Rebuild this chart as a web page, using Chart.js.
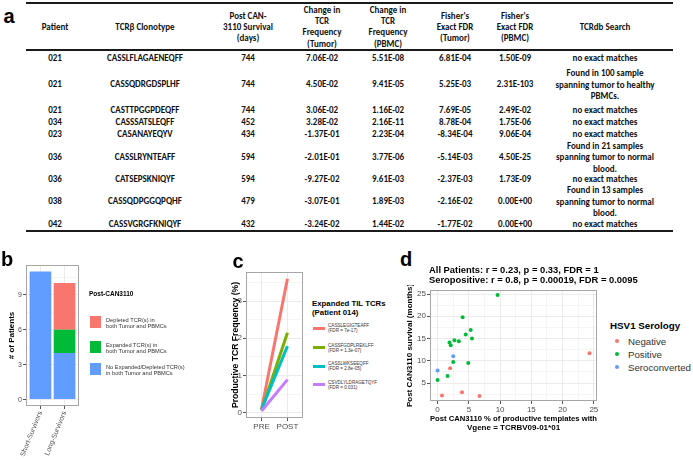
<!DOCTYPE html>
<html>
<head>
<meta charset="utf-8">
<script src="https://cdn.jsdelivr.net/npm/chart.js@4.4.0/dist/chart.umd.min.js"></script>
<style>
html, body { margin: 0; padding: 0; background: #fff; }
body { width: 693px; height: 460px; position: relative; overflow: hidden; font-family: "Liberation Sans", Arial, sans-serif; }
.t { position: absolute; white-space: pre; }
.tbl { font-family: Carlito, Lato, sans-serif; font-weight: bold; font-size: 9px; color: #111; text-align: center; line-height: 11.4px; }
.rule { position: absolute; background: #1a1a1a; }
.lab { font-weight: bold; font-size: 20px; color: #000; }
canvas { position: absolute; }
</style>
</head>
<body>
<canvas id="chartB" width="84" height="205" style="left:0px;top:255px"></canvas>
<canvas id="chartC" width="80" height="176" style="left:228px;top:262px"></canvas>
<canvas id="chartD" width="203" height="155" style="left:400px;top:285px"></canvas>
<script>
// panel a - table
var tableHeaders = [['Patient'], ['TCR\u03b2 Clonotype'], ['Post CAN-', '3110 Survival', '(days)'],
  ['Change in', 'TCR', 'Frequency', '(Tumor)'], ['Change in', 'TCR', 'Frequency', '(PBMC)'],
  ["Fisher's", 'Exact FDR', '(Tumor)'], ["Fisher's", 'Exact FDR', '(PBMC)'], ['TCRdb Search']];
var patients = ['021', '021', '021', '034', '023', '036', '036', '038', '042'];
var clonotypes = ['CASSLFLAGAENEQFF', 'CASSQDRGDSPLHF', 'CASTTPGGPDEQFF', 'CASSSATSLEQFF', 'CASANAYEQYV',
  'CASSLRYNTEAFF', 'CATSEPSKNIQYF', 'CASSQDPGGQPQHF', 'CASSVGRGFKNIQYF'];
var survivalDays = ['744', '744', '744', '452', '434', '594', '594', '479', '432'];
var changeTumor = ['7.06E-02', '4.50E-02', '3.06E-02', '3.28E-02', '-1.37E-01', '-2.01E-01', '-9.27E-02', '-3.07E-01', '-3.24E-02'];
var changePBMC = ['5.51E-08', '9.41E-05', '1.16E-02', '2.16E-11', '2.23E-04', '3.77E-06', '9.61E-03', '1.89E-03', '1.44E-02'];
var fisherTumor = ['6.81E-04', '5.25E-03', '7.69E-05', '8.78E-04', '-8.34E-04', '-5.14E-03', '-2.37E-03', '-2.16E-02', '-1.77E-02'];
var fisherPBMC = ['1.50E-09', '2.31E-103', '2.49E-02', '1.75E-06', '9.06E-04', '4.50E-25', '1.73E-09', '0.00E+00', '0.00E+00'];
var tcrdbSearch = ['no exact matches', 'Found in 100 sample\nspanning tumor to healthy\nPBMCs.', 'no exact matches',
  'no exact matches', 'no exact matches', 'Found in 21 samples\nspanning tumor to normal\nblood.', 'no exact matches',
  'Found in 13 samples\nspanning tumor to normal\nblood.', 'no exact matches'];

// panel b - patients by TCR change
var survivorGroups = ['Short-Survivors', 'Long-Survivors'];
var noChangeCounts = [11, 4];
var expandedCounts = [0, 2];
var depletedCounts = [0, 4];
var bLegendTitle = 'Post-CAN3110';
var bLegendLabels = ['Depleted TCR(s) in\nboth Tumor and PBMCs', 'Expanded TCR(s) in\nboth Tumor and PBMCs',
  'No Expanded/Depleted TCR(s)\nin both Tumor and PBMCs'];
var bTicks = [0, 3, 6, 9];

// panel c - expanded TIL TCRs
var timepoints = ['PRE', 'POST'];
var tilClones = ['CASSLEGIGTEAFF', 'CASSFGDPLREKLFF', 'CASSLWKSEEQFF', 'CSVDLYLDRAGETQYF'];
var tilFDR = ['7e-17', '1.3e-07', '2.8e-05', '0.031'];
var freqPre = [0.10, 0.07, 0.09, 0.05];
var freqPost = [3.60, 2.15, 1.79, 0.89];
var cTicks = [0, 1, 2, 3];

// panel d - survival vs TCRBV09-01 usage
var serologyGroups = ['Negative', 'Positive', 'Seroconverted'];
var negX = [2.0, 0.7, 3.9, 6.7, 24.3];
var negY = [8.3, 2.2, 2.9, 2.1, 11.7];
var posX = [9.6, 4.0, 5.3, 4.5, 5.5, 1.9, 2.1, 2.7, 3.4, 2.5, 4.9, 1.6, 0.0];
var posY = [24.8, 19.8, 16.9, 15.9, 15.0, 14.1, 13.5, 14.6, 14.4, 9.7, 9.5, 6.6, 5.7];
var seroX = [2.5, 0.0];
var seroY = [11.0, 7.8];
var dXTicks = [0, 5, 10, 15, 20, 25];
var dYTicks = [5, 10, 15, 20, 25];
var dTitle = ['All Patients: r = 0.23, p = 0.33, FDR = 1', 'Seropositive: r = 0.8, p = 0.00019, FDR = 0.0095'];

var hue3 = ['#F8766D', '#00BA38', '#619CFF'];
var hue4 = ['#F8766D', '#7CAE00', '#00BFC4', '#C77CFF'];

function put(text, x, y, cls, css, align) {
  var d = document.createElement('div');
  d.className = 't ' + (cls || '');
  d.textContent = text;
  d.style.left = x + 'px';
  d.style.top = y + 'px';
  d.style.transform = align === 'left' ? 'translate(0,-50%)' : 'translate(-50%,-50%)';
  if (css) for (var k in css) d.style[k] = css[k];
  document.body.appendChild(d);
  return d;
}
function rule(x, y, w, h) {
  var d = document.createElement('div');
  d.className = 'rule';
  d.style.left = x + 'px'; d.style.top = y + 'px';
  d.style.width = w + 'px'; d.style.height = h + 'px';
  document.body.appendChild(d);
}

// ---- table ----
var colX = [55, 145, 248, 322, 388, 455, 515, 605];
var rowY = [58, 84, 110, 122, 133.5, 156.5, 179, 201, 224];
put('a', 9, 16, 'lab');
rule(26, 2, 647, 2);
rule(26, 49, 647, 1.5);
rule(26, 230, 647, 1.5);
tableHeaders.forEach(function (h, i) { put(h.join('\n'), colX[i], 26.5, 'tbl'); });
var cols = [patients, clonotypes, survivalDays, changeTumor, changePBMC, fisherTumor, fisherPBMC, tcrdbSearch];
cols.forEach(function (col, c) {
  col.forEach(function (v, r) { put(v, colX[c], rowY[r], 'tbl', { lineHeight: '11.6px' }); });
});

// ---- shared chart bits ----
var frame = {
  id: 'frame',
  afterDraw: function (chart) {
    var a = chart.chartArea, ctx = chart.ctx;
    ctx.save();
    ctx.strokeStyle = '#a6a6a6';
    ctx.lineWidth = 1;
    ctx.strokeRect(Math.round(a.left) + 0.5, Math.round(a.top) + 0.5, Math.round(a.width) - 1, Math.round(a.height) - 1);
    ctx.restore();
  }
};
function gridOpts(major) {
  return {
    color: '#ebebeb',
    offset: false,
    lineWidth: function (c) { return c.tick && major.indexOf(c.tick.value) >= 0 ? 1 : 0.5; },
    tickLength: 3,
    tickColor: function (c) { return c.tick && major.indexOf(c.tick.value) >= 0 ? '#555' : 'rgba(0,0,0,0)'; }
  };
}
function withMinor(major, min, max) {
  var step = major[1] - major[0], out = [];
  for (var v = major[0] - step / 2; v <= max; v += step / 2) if (v >= min) out.push(v);
  return out;
}
function setTicks(list) { return function (s) { s.ticks = list.map(function (v) { return { value: v }; }); }; }
function fixHeight(h) { return function (s) { s.height = h; s.paddingLeft = 0; s.paddingRight = 0; }; }
function fixWidth(w) { return function (s) { s.width = w; s.paddingTop = 0; s.paddingBottom = 0; }; }
var tickFont = function (size) { return { family: 'Liberation Sans', size: size }; };
var boldFont = function (size) { return { family: 'Liberation Sans', size: size, weight: 'bold' }; };
Chart.defaults.color = '#4d4d4d';

// ---- panel b ----
put('b', 7, 259, 'lab');
var bMinMax = [-0.55, 11.55];
new Chart(document.getElementById('chartB').getContext('2d'), {
  type: 'bar',
  data: {
    datasets: [
      { label: 'none', data: survivorGroups.map(function (g, i) { return { x: i + 1, y: noChangeCounts[i] }; }), backgroundColor: hue3[2] },
      { label: 'expanded', data: survivorGroups.map(function (g, i) { return { x: i + 1, y: expandedCounts[i] }; }), backgroundColor: hue3[1] },
      { label: 'depleted', data: survivorGroups.map(function (g, i) { return { x: i + 1, y: depletedCounts[i] }; }), backgroundColor: hue3[0] }
    ]
  },
  options: {
    responsive: false, animation: false,
    layout: { padding: { top: 10, right: 5, left: 0, bottom: 0 } },
    datasets: { bar: { barPercentage: 0.9, categoryPercentage: 1, borderWidth: 0 } },
    plugins: { legend: { display: false }, tooltip: { enabled: false } },
    scales: {
      x: {
        type: 'linear', stacked: true, offset: false, min: 0.4, max: 2.6,
        afterBuildTicks: setTicks([1, 2]),
        afterFit: fixHeight(54),
        ticks: { autoSkip: false, minRotation: 68, maxRotation: 68, padding: 1, font: tickFont(7),
          callback: function (v) { return survivorGroups[v - 1] || ''; } },
        grid: gridOpts([1, 2]),
        border: { display: false }
      },
      y: {
        stacked: true, min: bMinMax[0], max: bMinMax[1],
        afterBuildTicks: setTicks(withMinor(bTicks, bMinMax[0], bMinMax[1])),
        afterFit: fixWidth(26),
        ticks: { autoSkip: false, padding: 1, font: tickFont(7),
          callback: function (v) { return bTicks.indexOf(v) >= 0 ? String(v) : ''; } },
        grid: gridOpts(bTicks),
        border: { display: false },
        title: { display: true, text: '# of Patients', color: '#000', font: boldFont(8), padding: { top: 7, bottom: 0 } }
      }
    }
  },
  plugins: [frame]
});
// legend b
put(bLegendTitle, 89, 293, '', { fontWeight: 'bold', fontSize: '6.5px', color: '#000' }, 'left');
var bKeyY = [322, 346.5, 369];
[0, 1, 2].forEach(function (i) {
  var k = document.createElement('div');
  k.style.cssText = 'position:absolute;left:90px;width:11px;height:12px;background:' + hue3[i] + ';top:' + (bKeyY[i] - 6) + 'px';
  document.body.appendChild(k);
  put(bLegendLabels[i], 106, bKeyY[i] + 1, '', { fontSize: '5.7px', lineHeight: '6.3px', color: '#333' }, 'left');
});

// ---- panel c ----
put('c', 238, 261, 'lab');
var cMinMax = [-0.14, 3.78];
new Chart(document.getElementById('chartC').getContext('2d'), {
  type: 'line',
  data: {
    datasets: tilClones.map(function (name, i) {
      return { label: name, data: [{ x: 1, y: freqPre[i] }, { x: 2, y: freqPost[i] }],
        borderColor: hue4[i], borderWidth: 3, pointRadius: 0, fill: false, borderCapStyle: 'butt' };
    }).reverse()
  },
  options: {
    responsive: false, animation: false,
    layout: { padding: { top: 10, right: 5, left: 0, bottom: 0 } },
    plugins: { legend: { display: false }, tooltip: { enabled: false } },
    scales: {
      x: {
        type: 'linear', min: 0.4, max: 2.6,
        afterBuildTicks: setTicks([1, 2]),
        afterFit: fixHeight(20),
        ticks: { autoSkip: false, maxRotation: 0, padding: 1, font: tickFont(8),
          callback: function (v) { return timepoints[v - 1] || ''; } },
        grid: gridOpts([1, 2]),
        border: { display: false }
      },
      y: {
        min: cMinMax[0], max: cMinMax[1],
        afterBuildTicks: setTicks(withMinor(cTicks, cMinMax[0], cMinMax[1])),
        afterFit: fixWidth(18),
        ticks: { autoSkip: false, padding: 1, font: tickFont(8),
          callback: function (v) { return cTicks.indexOf(v) >= 0 ? String(v) : ''; } },
        grid: gridOpts(cTicks),
        border: { display: false },
        title: { display: true, text: 'Productive TCR Frequency (%)', color: '#000', font: boldFont(8.6), padding: { top: 2, bottom: 0 } }
      }
    }
  },
  plugins: [frame]
});
// legend c
put('Expanded TIL TCRs\n(Patient 014)', 312, 307.5, '', { fontWeight: 'bold', fontSize: '7.8px', lineHeight: '9px', color: '#000' }, 'left');
var cKeyY = [328, 347.5, 366, 384.5];
tilClones.forEach(function (name, i) {
  var k = document.createElement('div');
  k.style.cssText = 'position:absolute;left:313px;width:12px;height:3px;background:' + hue4[i] + ';top:' + (cKeyY[i] - 1.5) + 'px';
  document.body.appendChild(k);
  put(name + '\n(FDR = ' + tilFDR[i] + ')', 328, cKeyY[i], '', { fontSize: '4.6px', lineHeight: '5.4px', color: '#333' }, 'left');
});

// ---- panel d ----
put('d', 406, 259, 'lab');
put(dTitle.join('\n'), 429, 275.5, '', { fontWeight: 'bold', fontSize: '9.4px', lineHeight: '10.8px', color: '#000' }, 'left');
var dXMinMax = [-1.215, 25.5], dYMinMax = [0.96, 25.9];
var dSets = [[negX, negY], [posX, posY], [seroX, seroY]];
new Chart(document.getElementById('chartD').getContext('2d'), {
  type: 'scatter',
  data: {
    datasets: dSets.map(function (s, i) {
      return { label: serologyGroups[i], data: s[0].map(function (x, j) { return { x: x, y: s[1][j] }; }),
        backgroundColor: hue3[i], borderWidth: 0, pointRadius: 2 };
    })
  },
  options: {
    responsive: false, animation: false,
    layout: { padding: { top: 5, right: 6, left: 0, bottom: 0 } },
    plugins: { legend: { display: false }, tooltip: { enabled: false } },
    scales: {
      x: {
        min: dXMinMax[0], max: dXMinMax[1],
        afterBuildTicks: setTicks(withMinor(dXTicks, dXMinMax[0], dXMinMax[1])),
        afterFit: fixHeight(39),
        ticks: { autoSkip: false, maxRotation: 0, padding: 1, font: tickFont(8),
          callback: function (v) { return dXTicks.indexOf(v) >= 0 ? String(v) : ''; } },
        grid: gridOpts(dXTicks),
        border: { display: false },
        title: { display: true, text: ['Post CAN3110 % of productive templates with', 'Vgene = TCRBV09-01*01'],
          color: '#000', font: boldFont(8), padding: { top: 0, bottom: 7 } }
      },
      y: {
        min: dYMinMax[0], max: dYMinMax[1],
        afterBuildTicks: setTicks(withMinor(dYTicks, dYMinMax[0], dYMinMax[1])),
        afterFit: fixWidth(30),
        ticks: { autoSkip: false, padding: 1, font: tickFont(8),
          callback: function (v) { return dYTicks.indexOf(v) >= 0 ? String(v) : ''; } },
        grid: gridOpts(dYTicks),
        border: { display: false },
        title: { display: true, text: 'Post CAN3110 survival (months)', color: '#000', font: boldFont(8), padding: { top: 5, bottom: 0 } }
      }
    }
  },
  plugins: [frame]
});
// legend d
put('HSV1 Serology', 610, 325, '', { fontWeight: 'bold', fontSize: '9.8px', color: '#000' }, 'left');
var dKeyY = [340.5, 354, 367];
serologyGroups.forEach(function (g, i) {
  var k = document.createElement('div');
  k.style.cssText = 'position:absolute;left:615px;width:4px;height:4px;border-radius:50%;background:' + hue3[i] + ';top:' + (dKeyY[i] - 2) + 'px';
  document.body.appendChild(k);
  put(g, 628, dKeyY[i], '', { fontSize: '9.7px', color: '#333' }, 'left');
});
</script>
</body>
</html>
